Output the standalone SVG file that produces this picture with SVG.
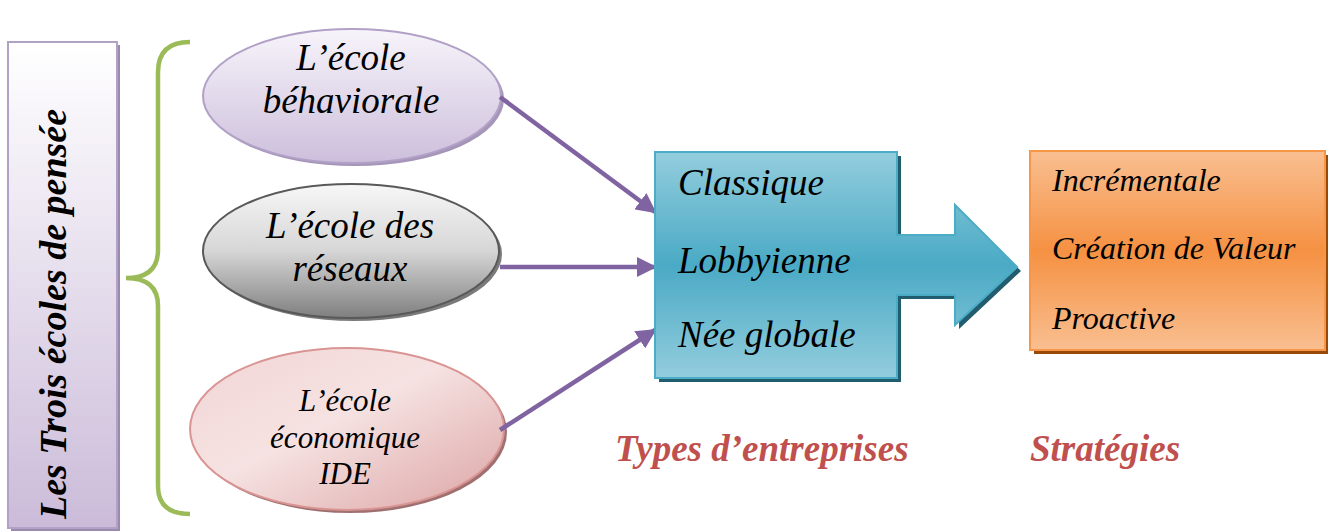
<svg xmlns="http://www.w3.org/2000/svg" width="1328" height="532" viewBox="0 0 1328 532">
<defs>
<linearGradient id="gPurple" x1="0" y1="0" x2="0" y2="1"><stop offset="0" stop-color="#ffffff"/><stop offset="1" stop-color="#cbbbd9"/></linearGradient>
<linearGradient id="gE1" x1="0" y1="0" x2="0" y2="1"><stop offset="0" stop-color="#f7f4fa"/><stop offset="1" stop-color="#cdbfdc"/></linearGradient>
<linearGradient id="gE2" x1="0" y1="0" x2="0" y2="1"><stop offset="0" stop-color="#f7f7f7"/><stop offset="0.5" stop-color="#d6d6d6"/><stop offset="1" stop-color="#7f7f7f"/></linearGradient>
<linearGradient id="gE3" x1="0" y1="0" x2="1" y2="1"><stop offset="0" stop-color="#f2d5d5"/><stop offset="0.45" stop-color="#f6e2e2"/><stop offset="1" stop-color="#dca4a4"/></linearGradient>
<linearGradient id="gBlue" x1="0" y1="0" x2="0" y2="1"><stop offset="0" stop-color="#93cddd"/><stop offset="0.5" stop-color="#4aaac5"/><stop offset="1" stop-color="#93cddd"/></linearGradient>
<linearGradient id="gOrange" x1="0" y1="0" x2="0" y2="1"><stop offset="0" stop-color="#f9bf91"/><stop offset="0.5" stop-color="#f59142"/><stop offset="1" stop-color="#f9bf91"/></linearGradient>
<marker id="arr" viewBox="0 0 10 10" refX="9" refY="5" markerWidth="4.5" markerHeight="4.5" orient="auto" markerUnits="strokeWidth"><path d="M0,0 L10,5 L0,10 z" fill="#8064a2"/></marker>
</defs>
<style>
.t{font-family:"Liberation Serif","Times New Roman",serif;font-style:italic;fill:#000}
.conn{stroke:#8064a2;stroke-width:4.5;fill:none}
.lbl{font-family:"Liberation Serif","Times New Roman",serif;font-style:italic;font-weight:bold;fill:#c0504d;font-size:37px}
</style>
<rect width="1328" height="532" fill="#ffffff"/>
<g id="title">
<rect x="11" y="45" width="109" height="486" fill="#9a8aae"/>
<rect x="8" y="42" width="109" height="486" fill="url(#gPurple)" stroke="#b2a1c7" stroke-width="2"/>
<text class="t" transform="translate(66,314) rotate(-90)" text-anchor="middle" font-size="38" font-weight="bold">Les Trois écoles de pensée</text>
</g>
<g id="brace">
<path d="M190,42 Q158,42 158,72 L158,250 Q158,278 126,278 Q158,278 158,306 L158,486 Q158,514 190,514" fill="none" stroke="#9bbb59" stroke-width="4.5"/>
</g>
<g id="school1">
<ellipse cx="355" cy="99" rx="149" ry="67" fill="#a595b8"/>
<ellipse cx="352" cy="96" rx="149" ry="67" fill="url(#gE1)" stroke="#b2a1c7" stroke-width="2"/>
<text class="t" x="351" y="70" text-anchor="middle" font-size="37">L’école</text>
<text class="t" x="351" y="113" text-anchor="middle" font-size="37">béhaviorale</text>
</g>
<g id="school2">
<ellipse cx="354" cy="254" rx="148" ry="67" fill="#7a7a7a"/>
<ellipse cx="351" cy="251" rx="148" ry="67" fill="url(#gE2)" stroke="#595959" stroke-width="2"/>
<text class="t" x="350" y="238" text-anchor="middle" font-size="37">L’école des</text>
<text class="t" x="350" y="281" text-anchor="middle" font-size="37">réseaux</text>
</g>
<g id="school3">
<ellipse cx="350" cy="432" rx="157" ry="81" fill="#a07070"/>
<ellipse cx="347" cy="429" rx="157" ry="81" fill="url(#gE3)" stroke="#d99594" stroke-width="2"/>
<text class="t" x="345" y="411" text-anchor="middle" font-size="31">L’école</text>
<text class="t" x="345" y="448" text-anchor="middle" font-size="31">économique</text>
<text class="t" x="345" y="484" text-anchor="middle" font-size="31">IDE</text>
</g>
<g id="connectors">
<line class="conn" x1="500" y1="97" x2="655" y2="212" marker-end="url(#arr)"/>
<line class="conn" x1="500" y1="267" x2="655" y2="267" marker-end="url(#arr)"/>
<line class="conn" x1="500" y1="430" x2="655" y2="330" marker-end="url(#arr)"/>
</g>
<g id="types">
<polygon points="659,156 901,156 901,239 959,239 959,209 1021,271 959,329 959,299 901,299 901,382 659,382" fill="#215d6e"/>
<polygon points="655,152 897,152 897,235 955,235 955,205 1017,267 955,325 955,295 897,295 897,378 655,378" fill="url(#gBlue)" stroke="#4bacc6" stroke-width="2"/>
<text class="t" x="678" y="195" font-size="37">Classique</text>
<text class="t" x="678" y="273" font-size="37">Lobbyienne</text>
<text class="t" x="678" y="347" font-size="37">Née globale</text>
</g>
<g id="strategies">
<rect x="1034" y="155" width="295" height="199" fill="#984807"/>
<rect x="1030" y="151" width="295" height="199" fill="url(#gOrange)" stroke="#f79646" stroke-width="2"/>
<text class="t" x="1052" y="191" font-size="32">Incrémentale</text>
<text class="t" x="1052" y="259" font-size="32">Création de Valeur</text>
<text class="t" x="1052" y="329" font-size="32">Proactive</text>
</g>
<g id="labels">
<text class="lbl" x="615" y="461">Types d’entreprises</text>
<text class="lbl" x="1030" y="461">Stratégies</text>
</g>
</svg>
